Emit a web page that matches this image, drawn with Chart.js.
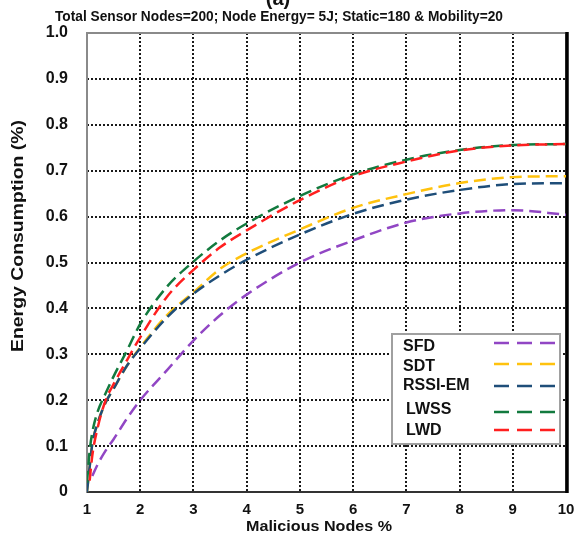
<!DOCTYPE html>
<html><head><meta charset="utf-8">
<script src="https://cdn.jsdelivr.net/npm/chart.js@4/dist/chart.umd.min.js"></script>
<style>html,body{margin:0;padding:0;background:#fff}#wrap{width:576px;height:537px;position:relative}</style>
</head><body><div id="wrap"><canvas id="c"></canvas></div>
<script>
const chartTitle = 'Total Sensor Nodes=200; Node Energy= 5J; Static=180 & Mobility=20';
const panelLabel = '(a)';
const xTitle = 'Malicious Nodes %';
const yTitle = 'Energy Consumption (%)';
const xPoints = [1, 1.05, 1.1, 1.2, 1.35, 1.5, 1.75, 2, 2.5, 3, 3.5, 4, 5, 6, 7, 8, 9, 10];
const seriesNames = ['SFD', 'SDT', 'RSSI-EM', 'LWSS', 'LWD'];
const sfd    = [null, null, 0.035, 0.06, 0.09, 0.115, 0.16, 0.2, 0.265, 0.33, 0.385, 0.43, 0.5, 0.548, 0.587, 0.607, 0.614, 0.604];
const sdt    = [0, 0.055, 0.105, 0.15, 0.195, 0.225, 0.275, 0.315, 0.385, 0.435, 0.486, 0.52, 0.572, 0.619, 0.649, 0.673, 0.686, 0.688];
const rssiEm = [0, 0.055, 0.105, 0.15, 0.195, 0.225, 0.275, 0.313, 0.38, 0.432, 0.472, 0.506, 0.561, 0.606, 0.637, 0.658, 0.671, 0.673];
const lwss   = [0.02, 0.09, 0.13, 0.175, 0.215, 0.252, 0.308, 0.366, 0.447, 0.502, 0.548, 0.585, 0.645, 0.692, 0.724, 0.745, 0.756, 0.758];
const lwd    = [null, 0.025, 0.08, 0.14, 0.2, 0.235, 0.287, 0.337, 0.425, 0.484, 0.533, 0.57, 0.636, 0.688, 0.72, 0.744, 0.755, 0.758];
const seriesColors = ['#9146c4', '#ffc20e', '#1f4e79', '#127a3e', '#ff1f1f'];
const yTickValues = [0, 0.1, 0.2, 0.3, 0.4, 0.5, 0.6, 0.7, 0.8, 0.9, 1.0];

const seriesValues = [sfd, sdt, rssiEm, lwss, lwd];
const FONT = '"Liberation Sans", Arial, sans-serif';

const datasets = seriesNames.map((name, i) => ({
  label: name,
  data: xPoints.map((x, k) => ({x: x, y: seriesValues[i][k]})),
  borderColor: seriesColors[i],
  backgroundColor: seriesColors[i],
  borderWidth: 2.5,
  borderDash: [12, 6],
  pointRadius: 0,
  cubicInterpolationMode: 'monotone',
  fill: false,
  spanGaps: false,
  order: seriesNames.length - i
}));

function fitText(ctx, text, x, y, targetW) {
  const w = ctx.measureText(text).width;
  ctx.save();
  ctx.translate(x, y);
  ctx.scale(targetW / w, 1);
  ctx.fillText(text, 0, 0);
  ctx.restore();
}

const decor = {
  id: 'decor',
  beforeDatasetsDraw(chart) {
    const {ctx, chartArea: a} = chart;
    ctx.save();
    ctx.strokeStyle = '#8a8a8a'; ctx.lineWidth = 2;
    ctx.strokeRect(a.left, a.top, a.right - a.left, a.bottom - a.top);
    ctx.strokeStyle = '#333'; ctx.lineWidth = 2;
    ctx.beginPath(); ctx.moveTo(a.left, a.bottom); ctx.lineTo(a.right, a.bottom); ctx.stroke();
    ctx.strokeStyle = '#000'; ctx.lineWidth = 3.5;
    ctx.beginPath(); ctx.moveTo(a.right + 1, a.top - 1); ctx.lineTo(a.right + 1, a.bottom + 1); ctx.stroke();
    ctx.restore();
  },
  afterDraw(chart) {
    const {ctx, chartArea: a} = chart;
    ctx.save();
    ctx.fillStyle = '#111';
    ctx.font = 'bold 20px ' + FONT;
    ctx.textAlign = 'center'; ctx.textBaseline = 'alphabetic';
    ctx.fillText(panelLabel, 278, 5);
    ctx.font = 'bold 14px ' + FONT;
    ctx.textBaseline = 'middle';
    fitText(ctx, chartTitle, 279, 17, 448);
    ctx.font = 'bold 15px ' + FONT;
    fitText(ctx, xTitle, 319, 527, 146);
    ctx.save();
    ctx.translate(19, 236); ctx.rotate(-Math.PI / 2);
    ctx.font = 'bold 16px ' + FONT;
    fitText(ctx, yTitle, 0, 0, 232);
    ctx.restore();
    // legend
    const bx = a.right - 174, by = a.top + 301, bw = 168, bh = 110;
    ctx.fillStyle = '#fff';
    ctx.fillRect(bx, by, bw, bh);
    ctx.strokeStyle = '#a0a0a0'; ctx.lineWidth = 2;
    ctx.strokeRect(bx, by, bw, bh);
    const textY = [13, 33, 52, 76, 97];
    const textX = [11, 11, 11, 14, 14];
    const lineY = [9, 30, 52, 78, 96];
    ctx.font = 'bold 16px ' + FONT;
    ctx.textAlign = 'left'; ctx.textBaseline = 'middle';
    chart.data.datasets.forEach((ds, i) => {
      ctx.fillStyle = '#111';
      ctx.fillText(ds.label, bx + textX[i], by + textY[i]);
      ctx.strokeStyle = ds.borderColor; ctx.lineWidth = 2.5;
      ctx.setLineDash([15, 8]);
      ctx.beginPath();
      ctx.moveTo(bx + 102, by + lineY[i]); ctx.lineTo(bx + 164, by + lineY[i]);
      ctx.stroke();
      ctx.setLineDash([]);
    });
    ctx.restore();
  }
};

const gridColor = (edgeMin, edgeMax) => (c) => {
  const v = c.tick ? c.tick.value : null;
  if (v === null) return 'rgba(0,0,0,0)';
  if (Math.abs(v - edgeMin) < 1e-6 || Math.abs(v - edgeMax) < 1e-6) return 'rgba(0,0,0,0)';
  return '#1a1a1a';
};

new Chart(document.getElementById('c'), {
  type: 'line',
  data: {datasets: datasets},
  plugins: [decor],
  options: {
    responsive: true,
    maintainAspectRatio: false,
    animation: false,
    layout: {padding: {top: 33, right: 10, left: 0, bottom: 0}},
    plugins: {legend: {display: false}, title: {display: false}, tooltip: {enabled: false}},
    scales: {
      x: {
        type: 'linear', min: 1, max: 10,
        afterFit(s) { s.height = 45; s.paddingRight = 0; s.paddingLeft = 0; },
        ticks: {stepSize: 1, padding: 9, color: '#111', font: {family: FONT, size: 15, weight: 'bold'}},
        grid: {color: gridColor(1, 10), lineWidth: 2, drawTicks: false, tickLength: 0},
        border: {display: false, dash: [2, 2]}
      },
      y: {
        type: 'linear', min: 0, max: 1,
        afterFit(s) { s.width = 87; },
        afterBuildTicks(s) { s.ticks = yTickValues.map(v => ({value: v})); },
        ticks: {
          padding: 19, color: '#111', font: {family: FONT, size: 16, weight: 'bold'},
          callback: (v) => v === 0 ? '0' : Number(v).toFixed(1)
        },
        grid: {color: gridColor(0, 1), lineWidth: 2, drawTicks: false, tickLength: 0},
        border: {display: false, dash: [2, 2]}
      }
    }
  }
});
</script>
</body></html>
